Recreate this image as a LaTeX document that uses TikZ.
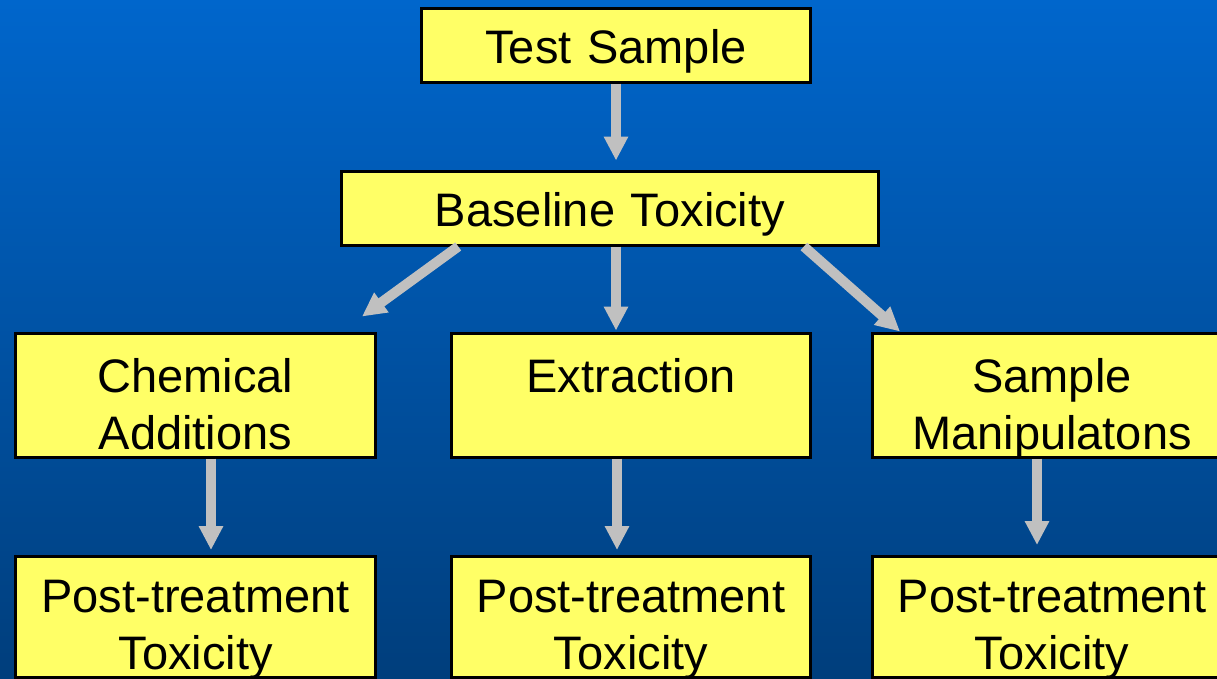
\documentclass[tikz,border=0pt]{standalone}
\usepackage{fontspec}
\setmainfont{Liberation Sans}
\usetikzlibrary{arrows.meta,calc}
\definecolor{boxyellow}{RGB}{255,255,102}
\definecolor{arrowgrey}{RGB}{192,192,192}
\definecolor{bgtop}{RGB}{0,102,204}
\definecolor{bgbottom}{RGB}{0,62,124}

\begin{document}
\begin{tikzpicture}[x=1pt,y=1pt,yscale=-1,xscale=1,
  box/.style={draw=black,line width=3pt,fill=boxyellow,inner sep=0pt,align=center,
    font=\fontsize{47}{57}\selectfont,anchor=base},
  onebox/.style={box,text height=55pt,text depth=19pt},
  twobox/.style={box,text height=59pt,text depth=65pt},
  postbox/.style={box,text height=56pt,text depth=65pt}]
\useasboundingbox (0,0) rectangle (1217,678);
\clip (0,0) rectangle (1217,678);
\shade[top color=bgtop,bottom color=bgbottom] (0,0) rectangle (1217,678);
\tikzset{flow/.style={draw=arrowgrey,line width=10pt,-{Triangle[width=23pt,length=24pt]}}}
% boxes
\node[onebox,text width=389pt] (test) at (616,63) {Test Sample};
\node[onebox,text width=537pt] (base) at (610,226) {Baseline Toxicity};
\node[twobox,text width=360pt] (chem) at (195.5,392) {Chemical\\Additions};
\node[twobox,text width=359pt] (extr) at (631,392) {Extraction};
\node[twobox,text width=359pt] (samp) at (1052,392) {Sample\\Manipulatons};
\node[postbox,text width=360pt] (postc) at (195.5,612) {Post-treatment\\Toxicity};
\node[postbox,text width=359pt] (poste) at (631,612) {Post-treatment\\Toxicity};
\node[postbox,text width=359pt] (posts) at (1052,612) {Post-treatment\\Toxicity};
% arrows
\draw[flow,shorten >=9pt] (test.south) -- (test.south |- base.north);
\draw[flow] ($(base.south west)!0.219!(base.south east)$) -- ([shift={(-15,-15)}]chem.north east);
\draw[flow,shorten >=1pt] (test.south |- base.south) -- (test.south |- extr.north);
\draw[flow] ($(base.south west)!0.859!(base.south east)$) -- ([shift={(29,0)}]samp.north west);
\draw[flow,shorten >=4.5pt] ([xshift=15.5pt]chem.south) -- ([xshift=15.5pt]postc.north);
\draw[flow,shorten >=4.5pt] ([xshift=-14pt]extr.south) -- ([xshift=-14pt]poste.north);
\draw[flow,shorten >=9.5pt] ([xshift=-15pt]samp.south) -- ([xshift=-15pt]posts.north);
\end{tikzpicture}
\end{document}
